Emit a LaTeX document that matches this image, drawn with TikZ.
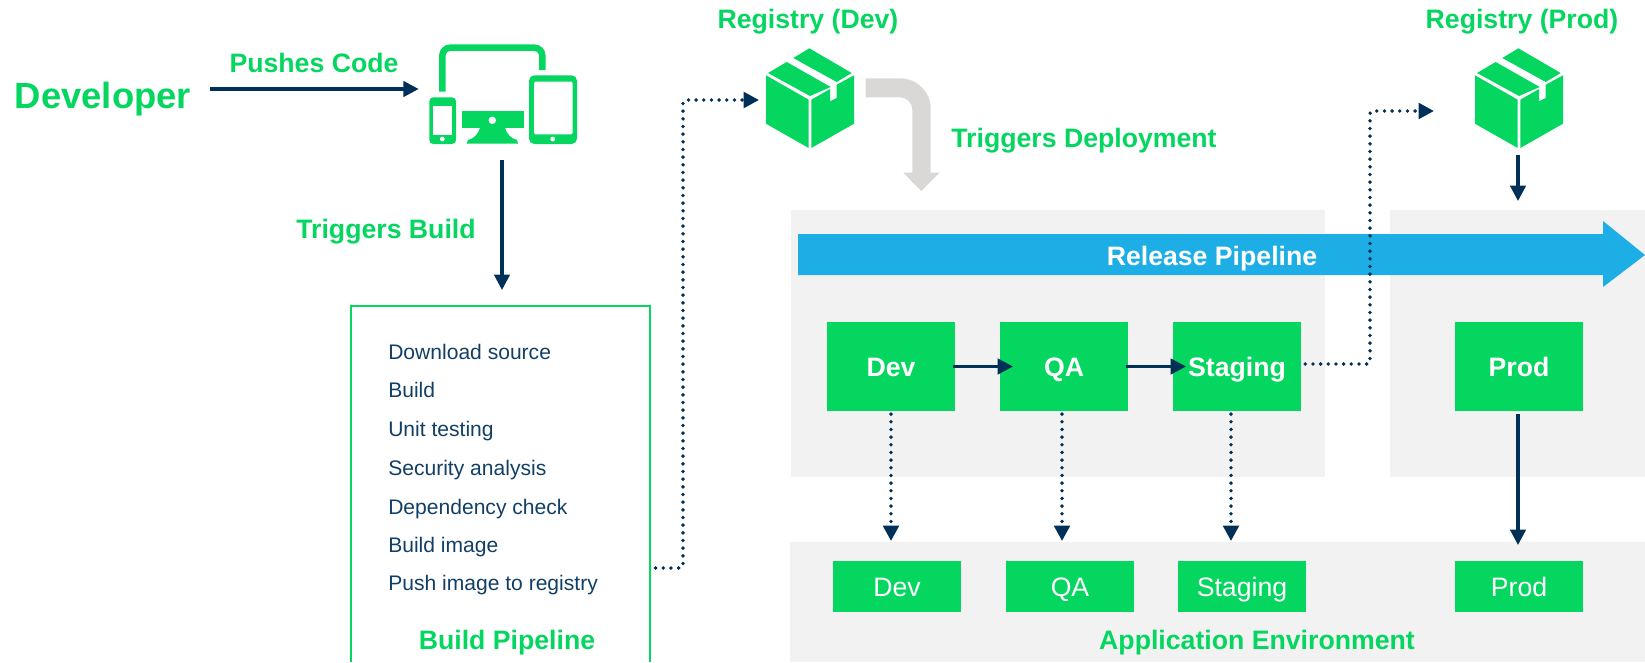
\documentclass[tikz,border=0pt]{standalone}
\usepackage{fontspec}
\setmainfont{Liberation Sans}
\usetikzlibrary{arrows.meta}
\definecolor{devgreen}{HTML}{04D660}
\definecolor{navy}{HTML}{003057}
\definecolor{listnavy}{HTML}{123F66}
\definecolor{panelgray}{HTML}{F2F2F2}
\definecolor{bendgray}{HTML}{D9D8D6}
\definecolor{releaseblue}{HTML}{1EAEE6}
\tikzset{
	capcentred/.style={text height=17.3pt,text depth=3pt},
	greenlabel/.style={capcentred,inner sep=0pt,text=devgreen,font=\fontsize{20}{24}\selectfont\bfseries},
	steplabel/.style={anchor=base west,inner sep=0pt,text=listnavy,font=\fontsize{15.8}{19}\selectfont},
	stagebox/.style={capcentred,fill=devgreen,text=white,inner sep=0pt,minimum width=96pt,minimum height=67pt,font=\fontsize{20}{24}\selectfont\bfseries},
	envbox/.style={capcentred,fill=devgreen,text=white,inner sep=0pt,minimum width=96pt,minimum height=38pt,font=\fontsize{20}{24}\selectfont},
	flow/.style={draw=navy,line width=2.4pt,-{Triangle[length=11.5pt,width=11.5pt]}},
	dotflow/.style={draw=navy,line width=2.9pt,line cap=round,dash pattern=on 0pt off 5.75pt,rounded corners=2pt,-{Triangle[length=11.5pt,width=11.5pt,line cap=butt]}},
	iconspot/.style={inner sep=0pt,minimum width=#1},
	crate/.pic={
		\fill[devgreen] (-42,-25) -- (-23.3,-36) -- (20.7,-11) -- (0,-2) -- cycle;
		\fill[devgreen] (-16.7,-40) -- (-0.7,-49.7) -- (41.7,-25) -- (26.7,-16) -- cycle;
		\fill[devgreen] (-44,-22.7) -- (-1.3,1.7) -- (-1.3,50) -- (-44,25.7) -- cycle;
		\fill[devgreen] (1.3,1.7) -- (20,-9) -- (20,3.3) -- (26.7,0) -- (26.7,-13.3) -- (44,-22.7) -- (44,25.7) -- (1.3,50) -- cycle;
	}
}

\begin{document}
\begin{tikzpicture}[x=0.75pt,y=-0.75pt]

		\useasboundingbox (0,0) rectangle (1645,662);

		\fill [panelgray] (791,210) rectangle (1325,477);
		\fill [panelgray] (1390,210) rectangle (1645,477);
		\fill [panelgray] (790,542) rectangle (1645,662);

		\fill [releaseblue] (798,234) -- (1603,234) -- (1603,221) -- (1645,255) --
		(1603,287) -- (1603,275) -- (798,275) -- cycle;
		\node [capcentred,inner sep=0pt,text=white,font=\fontsize{20}{24}\selectfont\bfseries] (nodeRelease) at (1212,256) {Release Pipeline};

		\node [greenlabel,text height=22.5pt,font=\fontsize{27.3}{32}\selectfont\bfseries] (nodeDeveloper) at (103,95) {Developer};
		\node [greenlabel] (nodePushes) at (314,63) {Pushes Code};
		\node [greenlabel] (nodeTriggersBuild) at (386,229) {Triggers Build};
		\node [greenlabel] (nodeRegDev) at (808,19) {Registry (Dev)};
		\node [greenlabel] (nodeRegProd) at (1522,19) {Registry (Prod)};
		\node [greenlabel] (nodeTriggersDeploy) at (1084,137.5) {Triggers Deployment};
		\node [greenlabel] (nodeBuildTitle) at (507,640) {Build Pipeline};
		\node [greenlabel] (nodeAppEnv) at (1257,640) {Application Environment};

		\draw [devgreen,line width=4.9pt,rounded corners=6pt] (442.3,91.7) -- (442.3,47.7) -- (542.3,47.7) -- (542.3,70);
		\fill [devgreen,rounded corners=3pt] (429.3,97.3) rectangle (456,144);
		\fill [white] (433.3,106.3) rectangle (451.7,135);
		\fill [white] (442.3,139) circle [radius=1.8pt];
		\fill [devgreen] (480,126) .. controls (479.5,134) and (473,139) .. (468,140) --
		(466.7,143.5) -- (518,143.5) -- (517,140) .. controls (512,139) and (505.5,134) .. (505,126) -- cycle;
		\fill [devgreen] (461.7,111.3) rectangle (524,128.3);
		\fill [white] (492.3,120.3) circle [radius=2.8pt];
		\fill [devgreen,rounded corners=4pt] (529,75.3) rectangle (577,144);
		\fill [white,rounded corners=1pt] (534,81.7) rectangle (572.7,134.3);
		\fill [white] (552.7,139) circle [radius=1.8pt];

		\node [iconspot=112pt,minimum height=78pt] (nodeDevices) at (503,96) {};

		\pic at (810,98) {crate};
		\pic at (1519,98) {crate};
		\node [iconspot=66pt,minimum height=75pt] (nodeCrateDev) at (810,98) {};
		\node [iconspot=66pt,minimum height=75pt] (nodeCrateProd) at (1519,98) {};

		\fill [bendgray] (865.7,78.3) -- (900,78.3) .. controls (917,78.3) and (930.7,92) .. (930.7,108.3) --
		(930.7,172.7) -- (939.3,172.7) -- (921.3,191) -- (903.3,172.7) -- (912.3,172.7) -- (912.3,110)
		.. controls (912.3,103) and (907,97.3) .. (900,97.3) -- (865.7,97.3) -- cycle;

		\node [inner sep=0pt,minimum width=224.25pt,minimum height=267pt] (nodeBuild) at (500.5,484) {};
		\draw [devgreen,line width=1.7pt] (nodeBuild.south west) |- (nodeBuild.north east) -- (nodeBuild.south east);

		\node [steplabel] (nodeStepA) at (388,359.5) {Download source};
		\node [steplabel] (nodeStepB) at (388,397.5) {Build};
		\node [steplabel] (nodeStepC) at (388,436) {Unit testing};
		\node [steplabel] (nodeStepD) at (388,475) {Security analysis};
		\node [steplabel] (nodeStepE) at (388,514) {Dependency check};
		\node [steplabel] (nodeStepF) at (388,552) {Build image};
		\node [steplabel] (nodeStepG) at (388,590) {Push image to registry};

		\node [stagebox] (nodeDev) at (891,366.5) {Dev};
		\node [stagebox] (nodeQA) at (1064,366.5) {QA};
		\node [stagebox] (nodeStaging) at (1237,366.5) {Staging};
		\node [stagebox] (nodeProd) at (1519,366.5) {Prod};

		\node [envbox] (nodeEnvDev) at (897,586.5) {Dev};
		\node [envbox] (nodeEnvQA) at (1070,586.5) {QA};
		\node [envbox] (nodeEnvStaging) at (1242,586.5) {Staging};
		\node [envbox] (nodeEnvProd) at (1519,586.5) {Prod};

		\coordinate (bendBuild) at (683,568);
		\coordinate (riseBuild) at (683,100);
		\coordinate (bendStaging) at (1370,364);
		\coordinate (riseStaging) at (1370,111);

		\draw [flow] ([xshift=14pt]nodeDeveloper.east |- 0,89) -- ([xshift=-7pt]nodeDevices.west |- 0,89);
		\draw [flow] (502,160) -- (502,290);
		\draw [dotflow] ([xshift=4pt]nodeBuild.east |- bendBuild) -- (bendBuild) -- (riseBuild) -- ([xshift=-5pt]nodeCrateDev.west |- riseBuild);
		\draw [dotflow] ([xshift=3pt]nodeStaging.east |- bendStaging) -- (bendStaging) -- (riseStaging) -- (1434,111);
		\draw [flow] ([yshift=-5pt]nodeCrateProd.south -| 1518,0) -- (1518,201);
		\draw [flow] ([xshift=-2pt]nodeDev.east) -- ([xshift=10pt]nodeQA.west);
		\draw [flow] ([xshift=-2pt]nodeQA.east) -- ([xshift=10pt]nodeStaging.west);
		\draw [dotflow] ([yshift=-2pt]nodeDev.south) -- (891,541);
		\draw [dotflow] ([yshift=-2pt]nodeQA.south -| 1062,0) -- (1062,541);
		\draw [dotflow] ([yshift=-2pt]nodeStaging.south -| 1231,0) -- (1231,541);
		\draw [flow] ([yshift=-2pt]nodeProd.south -| 1518,0) -- (1518,545);

	\end{tikzpicture}
\end{document}
